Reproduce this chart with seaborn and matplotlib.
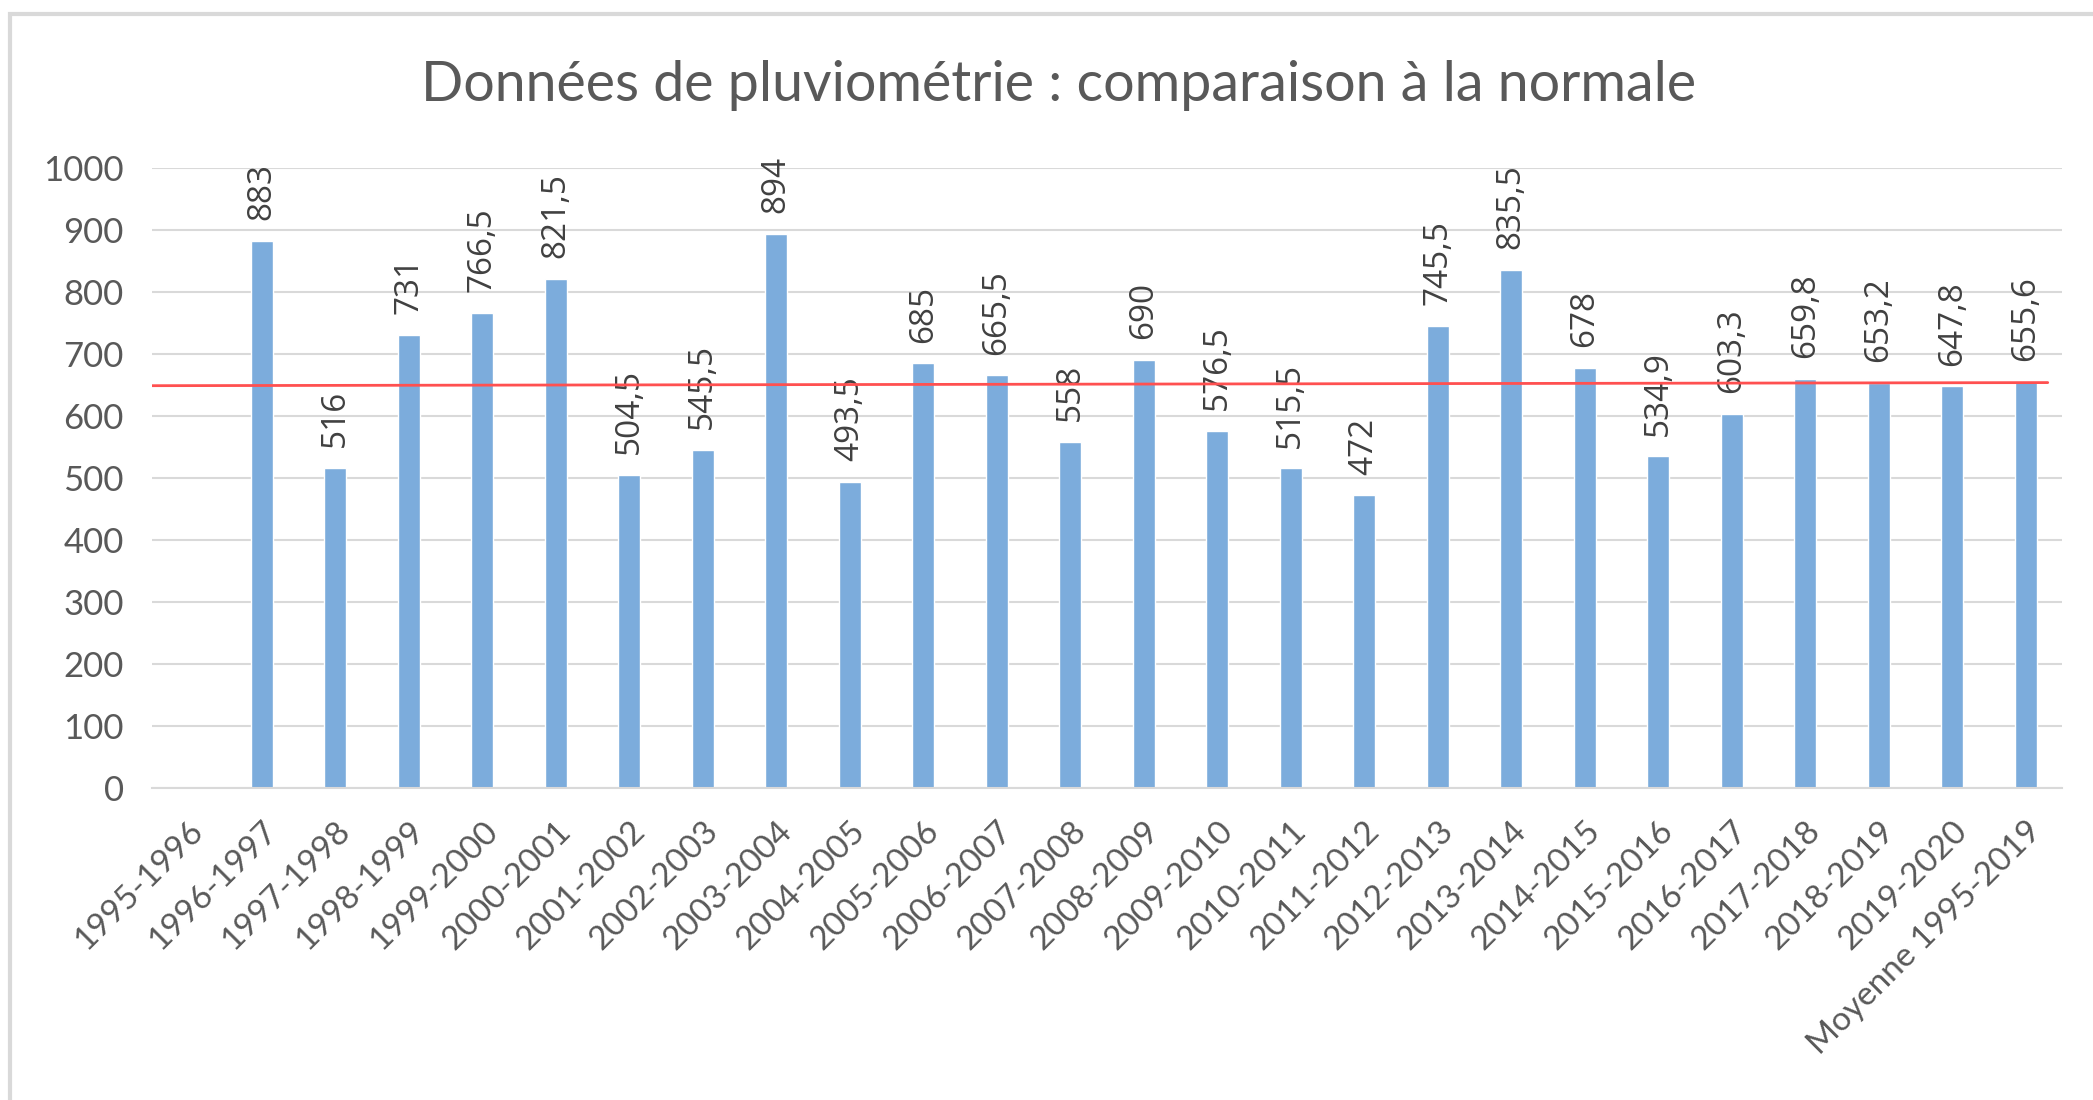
import numpy as np
import pandas as pd
import seaborn as sns
import matplotlib.pyplot as plt
from matplotlib.patches import Rectangle

saisons = ['1995-1996', '1996-1997', '1997-1998', '1998-1999', '1999-2000', '2000-2001',
           '2001-2002', '2002-2003', '2003-2004', '2004-2005', '2005-2006', '2006-2007',
           '2007-2008', '2008-2009', '2009-2010', '2010-2011', '2011-2012', '2012-2013',
           '2013-2014', '2014-2015', '2015-2016', '2016-2017', '2017-2018', '2018-2019',
           '2019-2020', 'Moyenne 1995-2019']
pluie = [np.nan, 883, 516, 731, 766.5, 821.5, 504.5, 545.5, 894, 493.5, 685, 665.5,
         558, 690, 576.5, 515.5, 472, 745.5, 835.5, 678, 534.9, 603.3, 659.8, 653.2,
         647.8, 655.6]
# ligne rouge (normale), lue aux deux extrémités
normale = [649, 654]
titre = 'Données de pluviométrie : comparaison à la normale'

df = pd.DataFrame({'saison': saisons, 'pluie': pluie})

sns.set_style('white')
plt.rcParams['font.family'] = ['Lato', 'DejaVu Sans']
gris = '#595959'

fig = plt.figure(figsize=(20.93, 11), dpi=100)
ax = fig.add_axes([0.0724, 0.2836, 0.913, 0.5636])

sns.barplot(data=df, x='saison', y='pluie', color='#7cacdc', width=0.3,
            saturation=1, ax=ax, zorder=2)

for i, v in enumerate(pluie):
    if np.isnan(v):
        continue
    txt = f'{v:g}'.replace('.', ',')
    ax.annotate(txt, (i, v), xytext=(0, 15), textcoords='offset points',
                rotation=90, ha='center', va='bottom', fontsize=24,
                family=['Open Sans', 'DejaVu Sans'], color='#404040')

n = len(saisons)
ax.plot([-0.5, n - 0.7], normale, color='#ff5050', lw=2, zorder=3)

ax.set_xlim(-0.5, n - 0.5)
ax.set_ylim(0, 1000)
ax.set_yticks(range(0, 1001, 100))
ax.yaxis.grid(True, color='#d9d9d9', lw=1.5, zorder=0)
ax.set_axisbelow(True)
for s in ['top', 'right', 'left']:
    ax.spines[s].set_visible(False)
ax.spines['bottom'].set_color('#d9d9d9')
ax.spines['bottom'].set_linewidth(1.5)
ax.tick_params(axis='both', length=0, colors=gris, labelsize=25)
ax.tick_params(axis='x', pad=20, labelsize=24)
ax.tick_params(axis='y', pad=20)
ax.set_xlabel('')
ax.set_ylabel('')
for lab in ax.get_xticklabels():
    lab.set_rotation(45)
    lab.set_ha('right')
    lab.set_rotation_mode('anchor')

fig.text(0.506, 0.922, titre, ha='center', va='center', fontsize=40, color=gris)

# cadre du graphique
fig.patches.append(Rectangle((10 / 2093, -0.1), 1.2, 1.1 - 14 / 1100,
                             transform=fig.transFigure, fill=False,
                             ec='#d9d9d9', lw=3))

fig.savefig('out.png', dpi=100)
